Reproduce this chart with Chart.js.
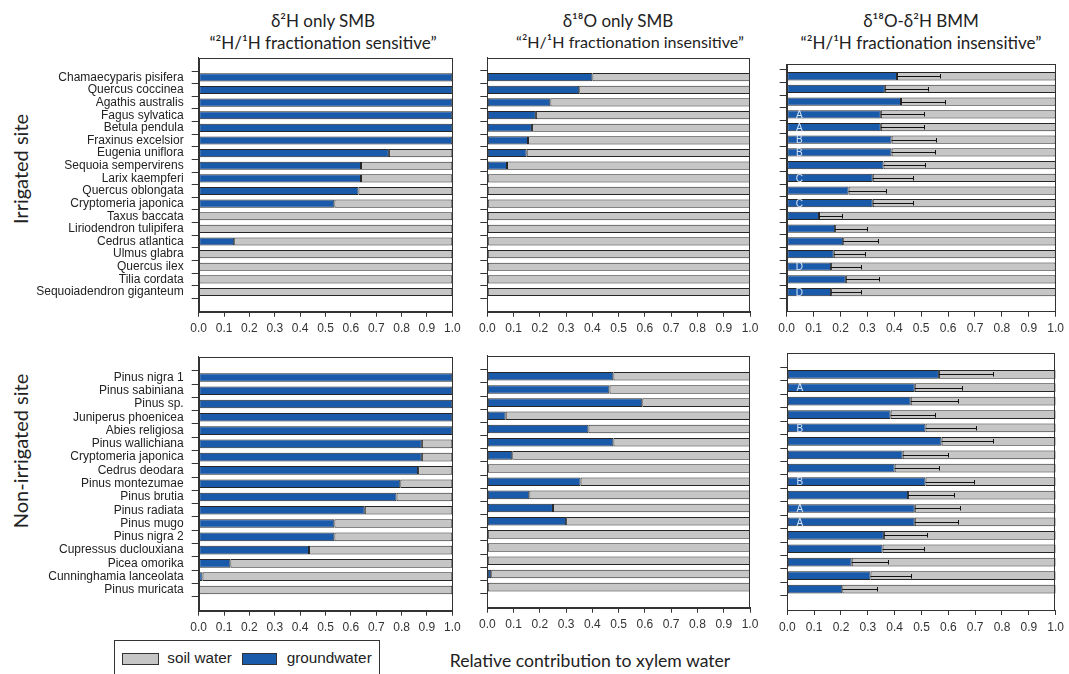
<!DOCTYPE html>
<html>
<head>
<meta charset="utf-8">
<title>Relative contribution to xylem water</title>
<script src="https://cdn.jsdelivr.net/npm/chart.js@4.4.1/dist/chart.umd.min.js"></script>
<style>
  html, body { margin: 0; padding: 0; background: #fff; }
  #page { position: relative; width: 1069px; height: 674px; overflow: hidden;
          font-family: Lato, "Open Sans", sans-serif; color: #222; }
  #page canvas { position: absolute; left: 0; top: 0; }
  .lbl { position: absolute; white-space: nowrap; line-height: 1; transform: translate(-50%, -50%); }
  .vlbl { position: absolute; white-space: nowrap; line-height: 1; transform: translate(-50%, -50%) rotate(-90deg); }
  .title { font-size: 17px; }
  #legend { position: absolute; left: 114px; top: 640px; width: 266px; height: 42px;
            border: 1px solid #333; box-sizing: border-box;
            font-family: "Liberation Sans", Arial, sans-serif; font-size: 15.3px; color: #222; }
  .sw { position: absolute; top: 11.5px; height: 12.6px; border: 1px solid #333; box-sizing: border-box; }
  .lt { position: absolute; top: 8.5px; line-height: 1; white-space: nowrap; }
</style>
</head>
<body>
<div id="page">
  <div class="lbl title" style="left:323px; top:20px;">δ²H only SMB</div>
  <div class="lbl title" style="left:323px; top:42px;">“²H/¹H fractionation sensitive”</div>
  <div class="lbl title" style="left:618px; top:20px;">δ¹⁸O only SMB</div>
  <div class="lbl title" style="left:630px; top:42px; font-size:16.1px;">“²H/¹H fractionation insensitive”</div>
  <div class="lbl title" style="left:921px; top:20px;">δ¹⁸O-δ²H BMM</div>
  <div class="lbl title" style="left:921px; top:42px;">“²H/¹H fractionation insensitive”</div>

  <div class="vlbl" style="left:20px; top:169px; font-size:20px;">Irrigated site</div>
  <div class="vlbl" style="left:20px; top:451px; font-size:20px;">Non-irrigated site</div>

  <div class="lbl" style="left:590px; top:661px; font-size:17.6px;">Relative contribution to xylem water</div>

  <div id="legend">
    <div class="sw" style="left:7.3px; width:37px; background:#c6c6c6;"></div>
    <div class="lt" style="left:52.3px;">soil water</div>
    <div class="sw" style="left:126.7px; width:35.6px; background:#1a5aab;"></div>
    <div class="lt" style="left:171.7px;">groundwater</div>
  </div>
</div>
<script>
// species, top to bottom
const irrigatedSpecies = ['Chamaecyparis pisifera', 'Quercus coccinea', 'Agathis australis', 'Fagus sylvatica',
  'Betula pendula', 'Fraxinus excelsior', 'Eugenia uniflora', 'Sequoia sempervirens', 'Larix kaempferi',
  'Quercus oblongata', 'Cryptomeria japonica', 'Taxus baccata', 'Liriodendron tulipifera', 'Cedrus atlantica',
  'Ulmus glabra', 'Quercus ilex', 'Tilia cordata', 'Sequoiadendron giganteum'];
const nonIrrigatedSpecies = ['Pinus nigra 1', 'Pinus sabiniana', 'Pinus sp.', 'Juniperus phoenicea',
  'Abies religiosa', 'Pinus wallichiana', 'Cryptomeria japonica', 'Cedrus deodara', 'Pinus montezumae',
  'Pinus brutia', 'Pinus radiata', 'Pinus mugo', 'Pinus nigra 2', 'Cupressus duclouxiana', 'Picea omorika',
  'Cunninghamia lanceolata', 'Pinus muricata'];

const xTicks = [0, 0.1, 0.2, 0.3, 0.4, 0.5, 0.6, 0.7, 0.8, 0.9, 1.0];

// irrigated site
const irrH2Ground = [1, 1, 1, 1, 1, 1, 0.75, 0.64, 0.64, 0.63, 0.535, 0, 0, 0.14, 0, 0, 0, 0];
const irrH2Soil = [0, 0, 0, 0, 0, 0, 0.25, 0.36, 0.36, 0.37, 0.465, 1, 1, 0.86, 1, 1, 1, 1];
const irrO18Ground = [0.40, 0.35, 0.24, 0.185, 0.17, 0.155, 0.15, 0.075, 0, 0, 0, 0, 0, 0, 0, 0, 0, 0];
const irrO18Soil = [0.60, 0.65, 0.76, 0.815, 0.83, 0.845, 0.85, 0.925, 1, 1, 1, 1, 1, 1, 1, 1, 1, 1];
const irrBmmGround = [0.41, 0.365, 0.425, 0.35, 0.35, 0.39, 0.39, 0.36, 0.32, 0.23, 0.32, 0.12, 0.18, 0.21, 0.175, 0.165, 0.22, 0.165];
const irrBmmSoil = [0.59, 0.635, 0.575, 0.65, 0.65, 0.61, 0.61, 0.64, 0.68, 0.77, 0.68, 0.88, 0.82, 0.79, 0.825, 0.835, 0.78, 0.835];
const irrBmmUpper = [0.57, 0.525, 0.59, 0.51, 0.51, 0.555, 0.55, 0.515, 0.47, 0.37, 0.47, 0.205, 0.30, 0.34, 0.29, 0.275, 0.345, 0.275];
const irrBmmLetters = ['', '', '', 'A', 'A', 'B', 'B', '', 'C', '', 'C', '', '', '', '', 'D', '', 'D'];

// non-irrigated site
const nonH2Ground = [1, 1, 1, 1, 1, 0.88, 0.88, 0.865, 0.795, 0.78, 0.655, 0.535, 0.535, 0.435, 0.125, 0.015, 0];
const nonH2Soil = [0, 0, 0, 0, 0, 0.12, 0.12, 0.135, 0.205, 0.22, 0.345, 0.465, 0.465, 0.565, 0.875, 0.985, 1];
const nonO18Ground = [0.48, 0.465, 0.59, 0.07, 0.385, 0.48, 0.095, 0, 0.355, 0.16, 0.25, 0.30, 0, 0, 0, 0.015, 0];
const nonO18Soil = [0.52, 0.535, 0.41, 0.93, 0.615, 0.52, 0.905, 1, 0.645, 0.84, 0.75, 0.70, 1, 1, 1, 0.985, 1];
const nonBmmGround = [0.565, 0.475, 0.46, 0.385, 0.515, 0.575, 0.43, 0.40, 0.515, 0.45, 0.475, 0.475, 0.36, 0.355, 0.24, 0.31, 0.205];
const nonBmmSoil = [0.435, 0.525, 0.54, 0.615, 0.485, 0.425, 0.57, 0.60, 0.485, 0.55, 0.525, 0.525, 0.64, 0.645, 0.76, 0.69, 0.795];
const nonBmmUpper = [0.765, 0.65, 0.635, 0.55, 0.705, 0.765, 0.60, 0.565, 0.695, 0.62, 0.645, 0.635, 0.52, 0.51, 0.375, 0.46, 0.335];
const nonBmmLetters = ['', 'A', '', '', 'B', '', '', '', 'B', '', 'A', 'A', '', '', '', '', ''];

const BLUE = '#1a5aab';
const GREY = '#c6c6c6';
const EDGE = '#262626';
const W = 1069, H = 674;
const XAXIS_H = 40;

// frame, error bars and the A-D letters on top of the bars
function decor(ground, upper, letters) {
    return {
        id: 'decor',
        afterDatasetsDraw(chart) {
            const ctx = chart.ctx;
            const a = chart.chartArea;
            const x = chart.scales.x, y = chart.scales.y;
            ctx.save();
            ctx.strokeStyle = '#333';
            ctx.lineWidth = 1;
            ctx.strokeRect(Math.round(a.left) + 0.5, Math.round(a.top) + 0.5,
                Math.round(a.right - a.left) - 1, Math.round(a.bottom - a.top));
            if (upper) {
                ctx.strokeStyle = '#111';
                upper.forEach(function(u, i) {
                    const py = Math.round(y.getPixelForValue(i + 1)) + 0.5;
                    const x0 = x.getPixelForValue(ground[i]);
                    const x1 = Math.round(x.getPixelForValue(u)) + 0.5;
                    ctx.beginPath();
                    ctx.moveTo(x0, py);
                    ctx.lineTo(x1, py);
                    ctx.moveTo(x1, py - 2.5);
                    ctx.lineTo(x1, py + 2);
                    ctx.stroke();
                });
            }
            if (letters) {
                ctx.fillStyle = '#d6e3f5';
                ctx.font = '10px "Liberation Sans", Arial, sans-serif';
                ctx.textAlign = 'center';
                ctx.textBaseline = 'middle';
                letters.forEach(function(l, i) {
                    if (l) ctx.fillText(l, x.getPixelForValue(0.047), y.getPixelForValue(i + 1) + 1);
                });
            }
            ctx.restore();
        }
    };
}

function makePanel(p) {
    const canvas = document.createElement('canvas');
    canvas.width = W;
    canvas.height = H;
    document.getElementById('page').appendChild(canvas);
    const yw = p.names ? p.left - 10 : 10;
    const tickFont = { family: '"Liberation Sans", Arial, sans-serif', size: 12 };

    new Chart(canvas, {
        type: 'bar',
        data: {
            labels: p.species.map((s, i) => i + 1),
            datasets: [
                { label: 'groundwater', data: p.ground, backgroundColor: BLUE },
                { label: 'soil water', data: p.soil, backgroundColor: GREY }
            ]
        },
        options: {
            indexAxis: 'y',
            responsive: false,
            animation: false,
            events: [],
            layout: {
                padding: { left: p.left - yw, right: W - p.right, top: p.top, bottom: H - p.bottom - XAXIS_H }
            },
            datasets: {
                bar: {
                    borderColor: EDGE,
                    borderWidth: 1,
                    borderSkipped: false,
                    barPercentage: 0.65,
                    categoryPercentage: 1.0
                }
            },
            scales: {
                x: {
                    type: 'linear',
                    min: 0,
                    max: 1,
                    stacked: true,
                    afterBuildTicks: s => { s.ticks = xTicks.map(v => ({ value: v })); },
                    afterFit: s => { s.height = XAXIS_H; },
                    grid: { drawOnChartArea: false, tickLength: 5, color: '#333' },
                    border: { display: true, color: '#333' },
                    ticks: {
                        autoSkip: false,
                        maxRotation: 0,
                        padding: 5,
                        color: '#333',
                        font: tickFont,
                        callback: v => Number(v).toFixed(1)
                    }
                },
                y: {
                    type: 'linear',
                    reverse: true,
                    min: p.ymin,
                    max: p.ymax,
                    stacked: true,
                    afterBuildTicks: s => { s.ticks = p.species.map((n, i) => ({ value: i + 1 })); },
                    afterFit: s => { s.width = yw; },
                    grid: { drawOnChartArea: false, tickLength: 7, color: '#333' },
                    border: { display: true, color: '#333' },
                    ticks: {
                        autoSkip: false,
                        padding: 8,
                        color: '#222',
                        font: tickFont,
                        callback: v => p.names ? p.species[v - 1] : ''
                    }
                }
            },
            plugins: {
                legend: { display: false },
                tooltip: { enabled: false }
            }
        },
        plugins: [decor(p.ground, p.upper, p.letters)]
    });
}

makePanel({ species: irrigatedSpecies, ground: irrH2Ground, soil: irrH2Soil, names: true,
    left: 198.7, right: 452.3, top: 57.7, bottom: 311.7, ymin: 0, ymax: 19 });
makePanel({ species: irrigatedSpecies, ground: irrO18Ground, soil: irrO18Soil, names: false,
    left: 487.3, right: 750, top: 57.5, bottom: 311.7, ymin: 0, ymax: 19 });
makePanel({ species: irrigatedSpecies, ground: irrBmmGround, soil: irrBmmSoil, names: false,
    upper: irrBmmUpper, letters: irrBmmLetters,
    left: 786.7, right: 1059.3, top: 64.3, bottom: 311.7, ymin: 0.6, ymax: 19 });
makePanel({ species: nonIrrigatedSpecies, ground: nonH2Ground, soil: nonH2Soil, names: true,
    left: 198.7, right: 452.3, top: 356.7, bottom: 610.7, ymin: 0, ymax: 18 });
makePanel({ species: nonIrrigatedSpecies, ground: nonO18Ground, soil: nonO18Soil, names: false,
    left: 487.3, right: 750, top: 355.7, bottom: 607.7, ymin: 0, ymax: 18 });
makePanel({ species: nonIrrigatedSpecies, ground: nonBmmGround, soil: nonBmmSoil, names: false,
    upper: nonBmmUpper, letters: nonBmmLetters,
    left: 787.3, right: 1060.7, top: 353.3, bottom: 610, ymin: 0, ymax: 18 });
</script>
</body>
</html>
